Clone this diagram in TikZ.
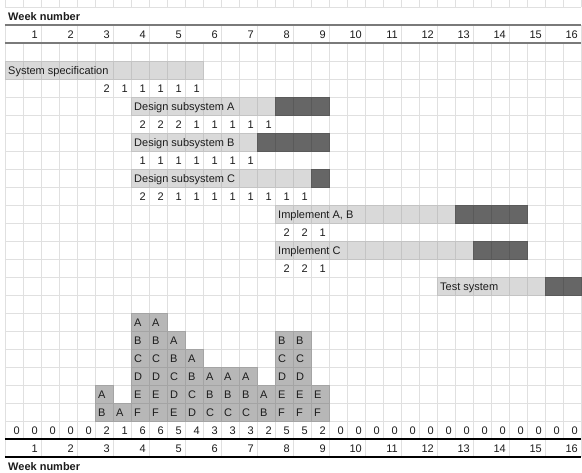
\documentclass[tikz,border=0pt]{standalone}
\usepackage{fontspec}
\setmainfont{Liberation Sans}

\definecolor{gridgray}{HTML}{E0E0E0}
\definecolor{rulegray}{HTML}{7A7A7A}
\definecolor{barlight}{HTML}{D9D9D9}
\definecolor{barlightline}{HTML}{C4C4C4}
\definecolor{bardark}{HTML}{666666}
\definecolor{bardarkline}{HTML}{5A5A5A}
\definecolor{histfill}{HTML}{B7B7B7}
\definecolor{histline}{HTML}{A4A4A4}
\definecolor{ink}{HTML}{1C1C1C}

\begin{document}
\begin{tikzpicture}[
    x=18pt, y=-18pt,
    font=\fontsize{11}{13}\selectfont,
    gline/.style={draw=gridgray, line width=0.8pt},
    toprule/.style={draw=rulegray, line width=2pt},
    botrule/.style={draw=black, line width=1.2pt},
    lightcell/.style={fill=barlight, draw=barlightline, line width=0.8pt},
    darkcell/.style={fill=bardark, draw=bardarkline, line width=0.8pt},
    hcell/.style={fill=histfill, draw=histline, line width=0.8pt},
    lbl/.style={anchor=base west, inner sep=0pt, xshift=3pt, yshift=-4.5pt, text=ink},
    num/.style={anchor=base east, inner sep=0pt, xshift=-3pt, yshift=-4.5pt, text=ink},
    hdr/.style={lbl, font=\fontsize{11}{13}\selectfont\bfseries}
]
\fill[white] (-5pt,7pt) rectangle (577pt,-466pt);
\useasboundingbox (-5pt,7pt) rectangle (577pt,-466pt);

% Grid
\foreach \c in {0,...,32} {
  \draw[gline] (\c,-0.4) -- (\c,0);
  \draw[gline] (\c,2) -- (\c,24);
}
\foreach \c in {0,2,...,32} {
  \draw[gline] (\c,1) -- (\c,2);
  \draw[gline] (\c,24) -- (\c,25);
}
\foreach \r in {0,3,4,...,23} \draw[gline] (0,\r) -- (32,\r);

% Tasks
\foreach \c in {0,...,10} \draw[lightcell] (\c,3) rectangle ++(1,1);
\node[lbl] (spec) at (0,3.5) {System specification};
\foreach \n [count=\k from 5] in {2,1,1,1,1,1} \node[num] (specN\k) at (\k+1,4.5) {\n};

\foreach \c in {7,...,14} \draw[lightcell] (\c,5) rectangle ++(1,1);
\foreach \c in {15,...,17} \draw[darkcell] (\c,5) rectangle ++(1,1);
\node[lbl] (desA) at (7,5.5) {Design subsystem A};
\foreach \n [count=\k from 7] in {2,2,2,1,1,1,1,1} \node[num] (desAN\k) at (\k+1,6.5) {\n};

\foreach \c in {7,...,13} \draw[lightcell] (\c,7) rectangle ++(1,1);
\foreach \c in {14,...,17} \draw[darkcell] (\c,7) rectangle ++(1,1);
\node[lbl] (desB) at (7,7.5) {Design subsystem B};
\foreach \n [count=\k from 7] in {1,1,1,1,1,1,1} \node[num] (desBN\k) at (\k+1,8.5) {\n};

\foreach \c in {7,...,16} \draw[lightcell] (\c,9) rectangle ++(1,1);
\draw[darkcell] (17,9) rectangle ++(1,1);
\node[lbl] (desC) at (7,9.5) {Design subsystem C};
\foreach \n [count=\k from 7] in {2,2,1,1,1,1,1,1,1,1} \node[num] (desCN\k) at (\k+1,10.5) {\n};

\foreach \c in {15,...,24} \draw[lightcell] (\c,11) rectangle ++(1,1);
\foreach \c in {25,...,28} \draw[darkcell] (\c,11) rectangle ++(1,1);
\node[lbl] (impAB) at (15,11.5) {Implement A, B};
\foreach \n [count=\k from 15] in {2,2,1} \node[num] (impABN\k) at (\k+1,12.5) {\n};

\foreach \c in {15,...,25} \draw[lightcell] (\c,13) rectangle ++(1,1);
\foreach \c in {26,...,28} \draw[darkcell] (\c,13) rectangle ++(1,1);
\node[lbl] (impC) at (15,13.5) {Implement C};
\foreach \n [count=\k from 15] in {2,2,1} \node[num] (impCN\k) at (\k+1,14.5) {\n};

\foreach \c in {24,...,29} \draw[lightcell] (\c,15) rectangle ++(1,1);
\foreach \c in {30,31} \draw[darkcell] (\c,15) rectangle ++(1,1);
\node[lbl] (test) at (24,15.5) {Test system};

% Resource histogram
\foreach \c/\stack in {5/{B,A}, 6/{A}, 7/{F,E,D,C,B,A}, 8/{F,E,D,C,B,A},
    9/{E,D,C,B,A}, 10/{D,C,B,A}, 11/{C,B,A}, 12/{C,B,A}, 13/{C,B,A},
    14/{B,A}, 15/{F,E,D,C,B}, 16/{F,E,D,C,B}, 17/{F,E}} {
  \foreach \l [count=\k] in \stack {
    \draw[hcell] (\c,23-\k) rectangle ++(1,1);
    \node[lbl] (h\c\l) at (\c,23.5-\k) {\l};
  }
}
\foreach \n [count=\k from 0] in {0,0,0,0,0,2,1,6,6,5,4,3,3,3,2,5,5,2,0,0,0,0,0,0,0,0,0,0,0,0,0,0}
  \node[num] (cnt\k) at (\k+1,23.5) {\n};

% Week axes
\draw[toprule] (0,1) -- (32,1);
\draw[toprule] (0,2) -- (32,2);
\draw[botrule] (0,24) -- (32,24);
\draw[botrule] (0,25) -- (32,25);
\node[hdr] (wkTop) at (0,0.5) {Week number};
\node[hdr] (wkBot) at (0,25.5) {Week number};
\foreach \w in {1,...,16} {
  \node[num] (wkT\w) at (2*\w,1.5) {\w};
  \node[num] (wkB\w) at (2*\w,24.5) {\w};
}
\end{tikzpicture}
\end{document}
